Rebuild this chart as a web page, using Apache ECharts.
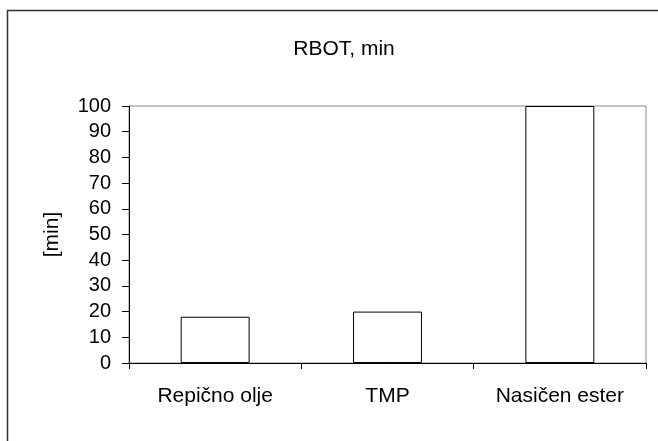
<!DOCTYPE html>
<html>
<head>
<meta charset="utf-8">
<script src="https://cdn.jsdelivr.net/npm/echarts@6/dist/echarts.min.js"></script>
<style>
  html, body { margin: 0; padding: 0; background: #fff; }
  #chart { width: 658px; height: 441px; }
</style>
</head>
<body>
<div id="chart"></div>
<script>
// podatki
const categories = ['Repično olje', 'TMP', 'Nasičen ester'];
const rbotValues = [18, 20, 100];
const yTicks = [0, 10, 20, 30, 40, 50, 60, 70, 80, 90, 100];

const chart = echarts.init(document.getElementById('chart'));

const font = 'Liberation Sans, Arial, sans-serif';

chart.setOption({
    animation: false,
    backgroundColor: '#fff',
    title: {
        text: 'RBOT, min',
        left: 339,
        top: 34,
        textAlign: 'center',
        textStyle: { fontFamily: font, fontSize: 21, fontWeight: 'normal', color: '#000' }
    },
    graphic: [{
        type: 'rect',
        shape: { x: 7.5, y: 10.5, width: 670, height: 450 },
        style: { fill: 'none', stroke: '#333', lineWidth: 1.5 },
        silent: true
    }],
    grid: {
        left: 129,
        right: 12,
        top: 106,
        bottom: 78,
        show: true,
        borderColor: '#888',
        borderWidth: 1
    },
    xAxis: {
        type: 'category',
        data: categories,
        axisLine: { lineStyle: { color: '#000', width: 1 } },
        axisTick: { show: true, alignWithLabel: false, length: 6, lineStyle: { color: '#000' } },
        axisLabel: { fontFamily: font, fontSize: 21, color: '#000', margin: 23 }
    },
    yAxis: {
        type: 'value',
        min: yTicks[0],
        max: yTicks[yTicks.length - 1],
        interval: 10,
        name: '[min]',
        nameLocation: 'middle',
        nameGap: 66,
        nameTextStyle: { fontFamily: font, fontSize: 21, color: '#000' },
        axisLine: { show: true, lineStyle: { color: '#000', width: 1 } },
        axisTick: { show: true, length: 7, lineStyle: { color: '#000' } },
        splitLine: { show: false },
        axisLabel: { fontFamily: font, fontSize: 20, color: '#000', margin: 18 }
    },
    series: [{
        type: 'bar',
        data: rbotValues,
        barWidth: '40%',
        itemStyle: { color: '#fff', borderColor: '#000', borderWidth: 1 }
    }]
});
</script>
</body>
</html>
